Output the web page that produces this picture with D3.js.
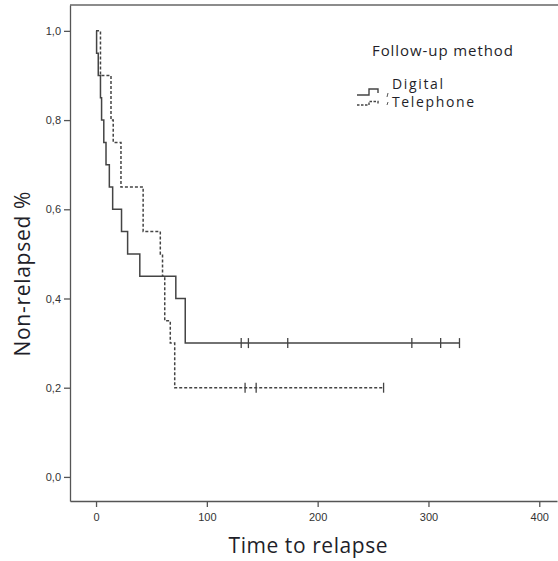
<!DOCTYPE html>
<html>
<head>
    <meta charset="utf-8">
    <title>km</title>
    <style>
        body { margin: 0; background: #fff; }
        .tick text { font-family: "Liberation Sans", Arial, sans-serif; font-size: 11px; fill: #333; }
        .tick line, .domain { stroke: #555; stroke-width: 1.3px; }
        .curve { fill: none; stroke: #444; stroke-width: 1.5px; }
        .lbl { font-family: "Open Sans", sans-serif; fill: #1f1f2a; }
    </style>
</head>
<body>
<script src="https://cdnjs.cloudflare.com/ajax/libs/d3/7.8.5/d3.min.js"></script>
<script>
    // group names
    var groups = ["Digital", "Telephone"];

    // step points [time, survival] for each group
    var digitalSteps = [[0, 1], [0.5, 0.95], [2, 0.9], [4, 0.85], [5, 0.8], [7, 0.75], [9, 0.7],
        [12, 0.65], [15, 0.6], [23, 0.55], [28.5, 0.5], [39.5, 0.45], [72, 0.4], [80.5, 0.3], [328, 0.3]];
    var telephoneSteps = [[0, 1], [4, 0.9], [13.5, 0.8], [15.5, 0.75], [22.5, 0.65], [42.5, 0.55],
        [58, 0.5], [60, 0.45], [62, 0.35], [67, 0.3], [71, 0.2], [259.5, 0.2]];

    // censored times
    var digitalCensor = [131, 137.5, 173, 285, 311, 328];
    var telephoneCensor = [134.5, 144.5, 259.5];

    var xTicks = [0, 100, 200, 300, 400];
    var yTicks = [0, 0.2, 0.4, 0.6, 0.8, 1.0];

    var width = 558, height = 561;

    var svg = d3.select("body").append("svg")
        .attr("width", width)
        .attr("height", height);

    var x = d3.scaleLinear().domain([-23.5, 416]).range([70, 557]);
    var y = d3.scaleLinear().domain([-0.054, 1.058]).range([501, 5]);

    // top frame line
    svg.append("line")
        .attr("x1", 70).attr("x2", 558)
        .attr("y1", 5).attr("y2", 5)
        .attr("stroke", "#666").attr("stroke-width", 1.3);

    svg.append("g")
        .attr("transform", "translate(70,0)")
        .call(d3.axisLeft(y).tickValues(yTicks).tickSize(6).tickSizeOuter(0)
            .tickFormat(function (d) { return d.toFixed(1).replace(".", ","); }));

    svg.append("g")
        .attr("transform", "translate(0,501)")
        .call(d3.axisBottom(x).tickValues(xTicks).tickSize(6).tickSizeOuter(0).tickPadding(6));

    var line = d3.line()
        .curve(d3.curveStepAfter)
        .x(function (d) { return x(d[0]); })
        .y(function (d) { return y(d[1]); });

    var series = [
        {steps: digitalSteps, censor: digitalCensor, dash: null},
        {steps: telephoneSteps, censor: telephoneCensor, dash: "3,2"}
    ];

    series.forEach(function (s) {
        svg.append("path")
            .datum(s.steps)
            .attr("class", "curve")
            .attr("d", line)
            .attr("stroke-dasharray", s.dash);

        var last = s.steps[s.steps.length - 1][1];
        svg.selectAll(null)
            .data(s.censor)
            .enter().append("line")
            .attr("x1", function (d) { return x(d); })
            .attr("x2", function (d) { return x(d); })
            .attr("y1", y(last) - 5)
            .attr("y2", y(last) + 5)
            .attr("stroke", "#444")
            .attr("stroke-width", 1.3);
    });

    // legend
    svg.append("text").attr("class", "lbl")
        .attr("x", 372).attr("y", 56)
        .attr("textLength", 141)
        .style("font-size", "15px")
        .text("Follow-up method");

    var legend = svg.selectAll("g.leg")
        .data(groups)
        .enter().append("g")
        .attr("class", "leg")
        .attr("transform", function (d, i) { return "translate(357," + (i ? 105 : 95) + ")"; });

    legend.append("path")
        .attr("d", function (d, i) { return i ? "M0,0 H12 V-3.5 H21 V0" : "M0,0 H12 V-6 H21 V-2"; })
        .attr("fill", "none")
        .attr("stroke", "#444")
        .attr("stroke-width", 1.4)
        .attr("stroke-dasharray", function (d, i) { return i ? "2.5,1.5" : null; });

    legend.append("line")
        .attr("x1", 31).attr("x2", 30)
        .attr("y1", function (d, i) { return i ? -3 : -2; })
        .attr("y2", function (d, i) { return i ? 0 : 2; })
        .attr("stroke", "#555")
        .attr("stroke-width", 1);

    legend.append("text").attr("class", "lbl")
        .attr("x", 35)
        .attr("y", function (d, i) { return i ? 2 : -6; })
        .attr("textLength", function (d, i) { return i ? 82 : 51; })
        .style("font-size", "14px")
        .text(function (d) { return d; });

    // axis titles
    svg.append("text").attr("class", "lbl")
        .attr("x", 308).attr("y", 553)
        .attr("text-anchor", "middle")
        .style("font-size", "21px")
        .attr("textLength", 159)
        .text("Time to relapse");

    svg.append("text").attr("class", "lbl")
        .attr("transform", "translate(30,274) rotate(-90)")
        .attr("text-anchor", "middle")
        .style("font-size", "21px")
        .attr("textLength", 165)
        .text("Non-relapsed %");
</script>
</body>
</html>
